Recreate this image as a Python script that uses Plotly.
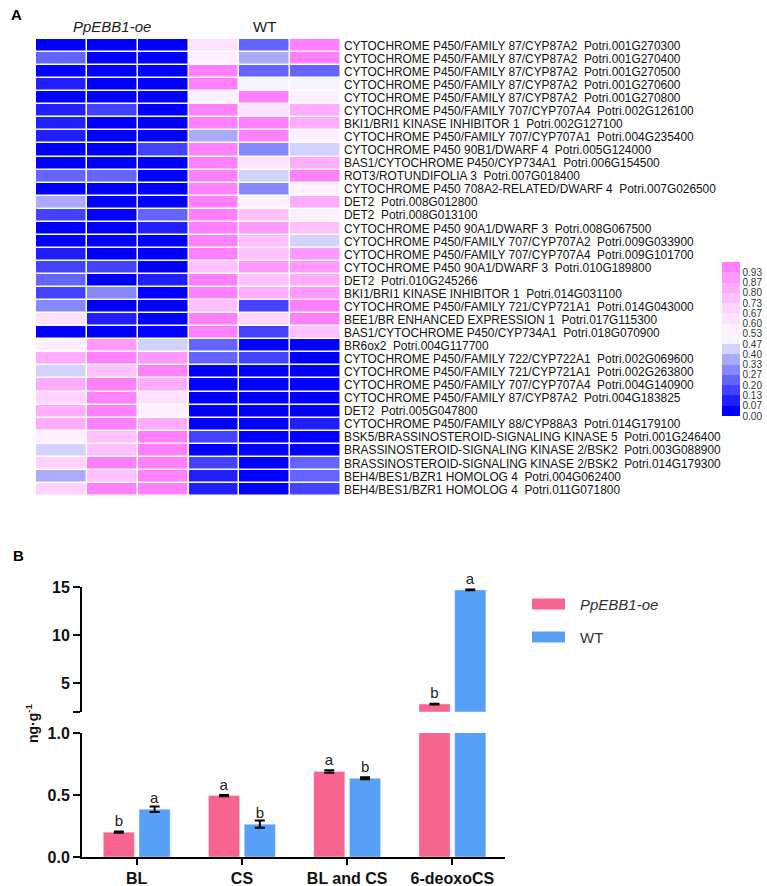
import plotly.graph_objects as go

# ---- panel A: heatmap data (relative expression, 0-1) ----
gene_names = [
    'CYTOCHROME P450/FAMILY 87/CYP87A2', 'CYTOCHROME P450/FAMILY 87/CYP87A2',
    'CYTOCHROME P450/FAMILY 87/CYP87A2', 'CYTOCHROME P450/FAMILY 87/CYP87A2',
    'CYTOCHROME P450/FAMILY 87/CYP87A2', 'CYTOCHROME P450/FAMILY 707/CYP707A4',
    'BKI1/BRI1 KINASE INHIBITOR 1', 'CYTOCHROME P450/FAMILY 707/CYP707A1',
    'CYTOCHROME P450 90B1/DWARF 4', 'BAS1/CYTOCHROME P450/CYP734A1',
    'ROT3/ROTUNDIFOLIA 3', 'CYTOCHROME P450 708A2-RELATED/DWARF 4',
    'DET2', 'DET2', 'CYTOCHROME P450 90A1/DWARF 3',
    'CYTOCHROME P450/FAMILY 707/CYP707A2', 'CYTOCHROME P450/FAMILY 707/CYP707A4',
    'CYTOCHROME P450 90A1/DWARF 3', 'DET2', 'BKI1/BRI1 KINASE INHIBITOR 1',
    'CYTOCHROME P450/FAMILY 721/CYP721A1', 'BEE1/BR ENHANCED EXPRESSION 1',
    'BAS1/CYTOCHROME P450/CYP734A1', 'BR6ox2',
    'CYTOCHROME P450/FAMILY 722/CYP722A1', 'CYTOCHROME P450/FAMILY 721/CYP721A1',
    'CYTOCHROME P450/FAMILY 707/CYP707A4', 'CYTOCHROME P450/FAMILY 87/CYP87A2',
    'DET2', 'CYTOCHROME P450/FAMILY 88/CYP88A3',
    'BSK5/BRASSINOSTEROID-SIGNALING KINASE 5',
    'BRASSINOSTEROID-SIGNALING KINASE 2/BSK2',
    'BRASSINOSTEROID-SIGNALING KINASE 2/BSK2',
    'BEH4/BES1/BZR1 HOMOLOG 4', 'BEH4/BES1/BZR1 HOMOLOG 4',
]
gene_ids = [
    'Potri.001G270300', 'Potri.001G270400', 'Potri.001G270500', 'Potri.001G270600',
    'Potri.001G270800', 'Potri.002G126100', 'Potri.002G127100', 'Potri.004G235400',
    'Potri.005G124000', 'Potri.006G154500', 'Potri.007G018400', 'Potri.007G026500',
    'Potri.008G012800', 'Potri.008G013100', 'Potri.008G067500', 'Potri.009G033900',
    'Potri.009G101700', 'Potri.010G189800', 'Potri.010G245266', 'Potri.014G031100',
    'Potri.014G043000', 'Potri.017G115300', 'Potri.018G070900', 'Potri.004G117700',
    'Potri.002G069600', 'Potri.002G263800', 'Potri.004G140900', 'Potri.004G183825',
    'Potri.005G047800', 'Potri.014G179100', 'Potri.001G246400', 'Potri.003G088900',
    'Potri.014G179300', 'Potri.004G062400', 'Potri.011G071800',
]

oe_rep1 = [0.03, 0.23, 0.03, 0.10, 0.03, 0.10, 0.10, 0.10, 0.03, 0.03, 0.23, 0.03,
           0.37, 0.17, 0.03, 0.03, 0.10, 0.17, 0.23, 0.17, 0.30, 0.63, 0.03, 0.57,
           0.83, 0.43, 0.83, 0.70, 0.83, 0.83, 0.57, 0.43, 0.70, 0.37, 0.70]
oe_rep2 = [0.03, 0.03, 0.03, 0.03, 0.03, 0.17, 0.03, 0.03, 0.03, 0.03, 0.23, 0.03,
           0.03, 0.03, 0.03, 0.03, 0.03, 0.17, 0.03, 0.30, 0.03, 0.10, 0.03, 0.90,
           0.97, 0.77, 0.97, 0.97, 0.97, 0.97, 0.77, 0.77, 0.97, 0.77, 0.97]
oe_rep3 = [0.03, 0.03, 0.03, 0.03, 0.03, 0.03, 0.03, 0.03, 0.17, 0.03, 0.03, 0.03,
           0.03, 0.23, 0.10, 0.03, 0.03, 0.03, 0.10, 0.03, 0.03, 0.03, 0.03, 0.43,
           0.90, 0.97, 0.83, 0.63, 0.57, 0.83, 0.97, 0.97, 0.97, 0.97, 0.97]
wt_rep1 = [0.63, 0.57, 0.97, 0.97, 0.57, 0.97, 0.97, 0.37, 0.97, 0.97, 0.97, 0.97,
           0.97, 0.97, 0.97, 0.97, 0.97, 0.77, 0.97, 0.97, 0.77, 0.97, 0.97, 0.23,
           0.23, 0.03, 0.03, 0.03, 0.03, 0.03, 0.17, 0.03, 0.17, 0.10, 0.10]
wt_rep2 = [0.23, 0.37, 0.23, 0.50, 0.97, 0.63, 0.97, 0.97, 0.30, 0.63, 0.43, 0.30,
           0.57, 0.77, 0.90, 0.77, 0.77, 0.90, 0.77, 0.83, 0.17, 0.70, 0.17, 0.03,
           0.17, 0.03, 0.03, 0.03, 0.03, 0.03, 0.03, 0.03, 0.03, 0.03, 0.03]
wt_rep3 = [0.97, 0.97, 0.23, 0.50, 0.57, 0.83, 0.83, 0.57, 0.43, 0.83, 0.97, 0.57,
           0.83, 0.57, 0.77, 0.43, 0.90, 0.90, 0.83, 0.90, 0.97, 0.97, 0.77, 0.03,
           0.03, 0.03, 0.03, 0.03, 0.03, 0.10, 0.03, 0.03, 0.23, 0.23, 0.17]

samples = ['oe1', 'oe2', 'oe3', 'wt1', 'wt2', 'wt3']

band_colors = ['rgb(0,0,255)', 'rgb(32,32,255)', 'rgb(66,66,255)', 'rgb(100,100,255)',
               'rgb(135,135,255)', 'rgb(170,170,255)', 'rgb(210,210,255)',
               'rgb(246,244,255)', 'rgb(255,240,255)', 'rgb(255,226,255)',
               'rgb(255,210,255)', 'rgb(255,192,255)', 'rgb(255,172,255)',
               'rgb(255,152,255)', 'rgb(255,128,255)']

# ---- panel B: BR contents (ng/g) ----
categories = ['BL', 'CS', 'BL and CS', '6-deoxoCS']
oe_mean = [0.20, 0.495, 0.69, 2.83]
oe_err = [0.005, 0.005, 0.01, 0.04]
wt_mean = [0.385, 0.265, 0.635, 14.7]
wt_err = [0.022, 0.03, 0.008, 0.04]
oe_letters = ['b', 'a', 'a', 'b']
wt_letters = ['a', 'b', 'b', 'a']

pink = '#F76490'
blue = '#56A0F7'

W, H = 767, 886


def px_x(p):
    return p / W


def px_y(p):
    return 1 - p / H


labels = [n + '\u00a0\u00a0' + i for n, i in zip(gene_names, gene_ids)]
z = [list(r) for r in zip(oe_rep1, oe_rep2, oe_rep3, wt_rep1, wt_rep2, wt_rep3)]

n = len(band_colors)
colorscale = []
for k, c in enumerate(band_colors):
    colorscale.append([k / n, c])
    colorscale.append([(k + 1) / n, c])

fig = go.Figure()

fig.add_trace(go.Heatmap(
    z=z, x=samples, y=labels, zmin=0, zmax=1, colorscale=colorscale,
    xgap=1.5, ygap=1.5, xaxis='x', yaxis='y', hoverinfo='skip',
    colorbar=dict(x=px_x(722), xanchor='left', y=px_y(339), yanchor='middle',
                  len=154, lenmode='pixels', thickness=18, outlinewidth=0,
                  xpad=0, ypad=0, ticks='',
                  tickvals=[k / n for k in range(n)],
                  ticktext=['%.2f' % (k / n) for k in range(n)],
                  tickfont=dict(family='Arial', size=10, color='#333')),
))

# lower part of the broken axis (0 - 1)
low_oe_text = [t if v < 1 else '' for t, v in zip(oe_letters, oe_mean)]
low_wt_text = [t if v < 1 else '' for t, v in zip(wt_letters, wt_mean)]
fig.add_trace(go.Bar(x=categories, y=oe_mean, name='PpEBB1-oe', marker_color=pink,
                     error_y=dict(type='data', array=oe_err, color='black', thickness=2, width=5),
                     text=low_oe_text, textposition='outside',
                     textfont=dict(family='Arial', size=15, color='#222'),
                     xaxis='x2', yaxis='y2', showlegend=False))
fig.add_trace(go.Bar(x=categories, y=wt_mean, name='WT', marker_color=blue,
                     error_y=dict(type='data', array=wt_err, color='black', thickness=2, width=5),
                     text=low_wt_text, textposition='outside',
                     textfont=dict(family='Arial', size=15, color='#222'),
                     xaxis='x2', yaxis='y2', showlegend=False))

# upper part of the broken axis (2 - 15)
brk = 2
up_x = [c for c, v in zip(categories, wt_mean) if v > 1]
fig.add_trace(go.Bar(x=up_x, y=[v - brk for v in oe_mean if v > 1], base=brk,
                     marker_color=pink,
                     error_y=dict(type='data', array=[e for e, v in zip(oe_err, oe_mean) if v > 1],
                                  color='black', thickness=2, width=5),
                     text=[t for t, v in zip(oe_letters, oe_mean) if v > 1], textposition='outside',
                     cliponaxis=False, textfont=dict(family='Arial', size=15, color='#222'),
                     xaxis='x2', yaxis='y3', showlegend=False))
fig.add_trace(go.Bar(x=up_x, y=[v - brk for v in wt_mean if v > 1], base=brk,
                     marker_color=blue,
                     error_y=dict(type='data', array=[e for e, v in zip(wt_err, wt_mean) if v > 1],
                                  color='black', thickness=2, width=5),
                     text=[t for t, v in zip(wt_letters, wt_mean) if v > 1], textposition='outside',
                     cliponaxis=False, textfont=dict(family='Arial', size=15, color='#222'),
                     xaxis='x2', yaxis='y3', showlegend=False))

bold_axis = dict(showline=True, linewidth=2, linecolor='black', ticks='outside',
                 ticklen=7, tickwidth=2, tickcolor='black', showgrid=False, zeroline=False,
                 tickfont=dict(family='Arial', size=16, color='#111', weight='bold'))

fig.update_layout(
    width=W, height=H, autosize=False,
    margin=dict(l=0, r=0, t=0, b=0, autoexpand=False),
    paper_bgcolor='white', plot_bgcolor='white',
    barmode='group', bargap=0.32, bargroupgap=0.13,
    xaxis=dict(domain=[px_x(36), px_x(341)], anchor='y', showticklabels=False,
               showgrid=False, zeroline=False, ticks=''),
    yaxis=dict(domain=[px_y(496), px_y(39)], anchor='x', side='right', autorange='reversed',
               tickmode='array', tickvals=labels, ticktext=labels,
               showgrid=False, zeroline=False, ticks='', ticklabelstandoff=2,
               tickfont=dict(family='Arial', size=11.9, color='#111')),
    xaxis2=dict(domain=[px_x(82), px_x(505)], anchor='y2', type='category',
                categoryorder='array', categoryarray=categories, range=[-0.52, 3.5],
                **{k: v for k, v in bold_axis.items() if k != 'ticklen'}, ticklen=6),
    yaxis2=dict(domain=[px_y(857), px_y(733)], anchor='x2', range=[0, 1],
                tickvals=[0, 0.5, 1.0], ticktext=['0.0', '0.5', '1.0'], **bold_axis),
    yaxis3=dict(domain=[px_y(712), px_y(587)], anchor='x2', range=[brk, 15],
                tickvals=[brk, 5, 10, 15], ticktext=['', '5', '10', '15'], **bold_axis),
)

# panel letters and column headers
fig.add_annotation(text='<b>A</b>', xref='paper', yref='paper', x=px_x(9), y=px_y(15),
                   xanchor='left', yanchor='middle', showarrow=False,
                   font=dict(family='Arial', size=15, color='black'))
fig.add_annotation(text='<b>B</b>', xref='paper', yref='paper', x=px_x(11), y=px_y(555),
                   xanchor='left', yanchor='middle', showarrow=False,
                   font=dict(family='Arial', size=15, color='black'))
fig.add_annotation(text='<i>PpEBB1-oe</i>', xref='x', yref='paper', x='oe2', y=px_y(26),
                   yanchor='middle', showarrow=False,
                   font=dict(family='Arial', size=15, color='#222'))
fig.add_annotation(text='WT', xref='x', yref='paper', x='wt2', y=px_y(26),
                   yanchor='middle', showarrow=False,
                   font=dict(family='Arial', size=15, color='#222'))

# y title of panel B
fig.add_annotation(text='<b>ng·g<sup>-1</sup></b>', xref='paper', yref='paper',
                   x=px_x(32), y=px_y(723), xanchor='center', yanchor='middle',
                   textangle=-90, showarrow=False,
                   font=dict(family='Arial', size=14, color='#111'))

# legend of panel B
for name, color, yc, italic in [('PpEBB1-oe', pink, 604, True), ('WT', blue, 637, False)]:
    fig.add_shape(type='rect', xref='paper', yref='paper', x0=px_x(532), x1=px_x(565),
                  y0=px_y(yc + 5.5), y1=px_y(yc - 5.5), fillcolor=color, line_width=0)
    fig.add_annotation(text='<i>%s</i>' % name if italic else name, xref='paper', yref='paper',
                       x=px_x(578), y=px_y(yc), xanchor='left', yanchor='middle',
                       showarrow=False, font=dict(family='Arial', size=15, color='#333'))

# drop the browser's default body margin so the figure fills the window exactly
fig.write_html("out.html", config={'displayModeBar': False},
               post_script="document.body.style.margin='0';document.body.style.overflow='hidden';")
